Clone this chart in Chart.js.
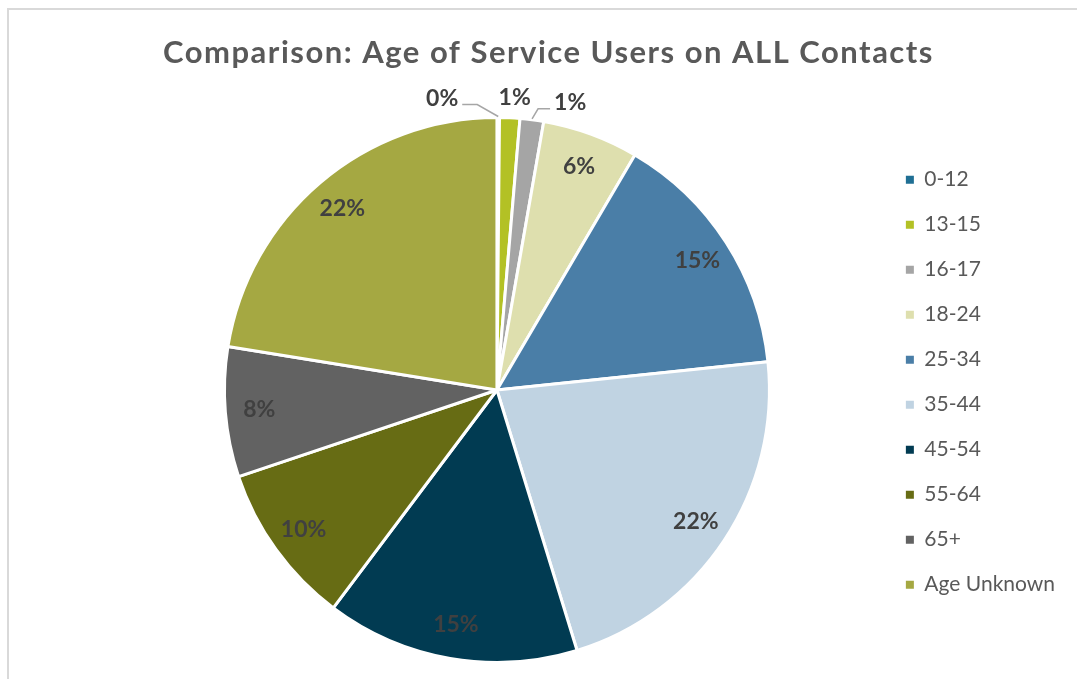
<!DOCTYPE html>
<html>
<head>
<meta charset="utf-8">
<script src="https://cdn.jsdelivr.net/npm/chart.js@4.4.0/dist/chart.umd.min.js"></script>
<style>
  html, body { margin: 0; padding: 0; background: #fff; }
  #wrap { position: relative; width: 1077px; height: 679px; overflow: hidden; }
  #frame { position: absolute; left: 7px; top: 8px; width: 1100px; height: 700px;
           border-left: 2px solid #d9d9d9; border-top: 2px solid #d9d9d9; }
  canvas { position: absolute; left: 0; top: 0; }
</style>
</head>
<body>
<div id="wrap">
  <div id="frame"></div>
  <canvas id="myChart" width="1077" height="679"></canvas>
</div>
<script>
// age bands, in the order Excel draws them (clockwise from 12 o'clock)
const ageGroups = ['0-12', '13-15', '16-17', '18-24', '25-34', '35-44', '45-54', '55-64', '65+', 'Age Unknown']
// share of all contacts, percent
const contactShare = [0.15, 1.2, 1.4, 5.7, 14.9, 21.9, 15.0, 9.6, 7.7, 22.45]
const sliceColours = ['#1f6f94', '#b3c125', '#a5a5a5', '#dedfae', '#4a7ea7', '#c0d3e2', '#013b52', '#676c14', '#626262', '#a5a842']
const chartTitle = 'Comparison: Age of Service Users on ALL Contacts'

// tiny slices get their label outside, with or without a leader line
const outsideLabels = { 0: 'left', 1: 'above', 2: 'right' }

// title is drawn by hand so it can sit off-centre like the Excel one
const titleText = {
	id: 'titleText',
	afterDraw(chart) {
		const ctx = chart.ctx
		ctx.save()
		ctx.font = 'bold 31px Lato'
		ctx.letterSpacing = '1.5px'
		ctx.fillStyle = '#595959'
		ctx.textAlign = 'center'
		ctx.textBaseline = 'middle'
		ctx.fillText(chartTitle, chart.width / 2 + 10, 53)
		ctx.restore()
	}
}

const pctLabels = {
	id: 'pctLabels',
	afterDatasetsDraw(chart) {
		const ctx = chart.ctx
		const arcs = chart.getDatasetMeta(0).data
		const total = contactShare.reduce((a, b) => a + b, 0)
		ctx.save()
		ctx.font = 'bold 23px Lato'
		ctx.fillStyle = '#404040'
		ctx.textBaseline = 'middle'
		arcs.forEach((arc, i) => {
			const txt = Math.round(contactShare[i] / total * 100) + '%'
			const mid = (arc.startAngle + arc.endAngle) / 2
			const r = arc.outerRadius
			const mode = outsideLabels[i]
			if (!mode) {
				ctx.textAlign = 'center'
				ctx.fillText(txt, arc.x + Math.cos(mid) * r * 0.875, arc.y + Math.sin(mid) * r * 0.875)
				return
			}
			if (mode === 'above') {
				ctx.textAlign = 'center'
				ctx.fillText(txt, arc.x + Math.cos(mid) * (r + 20) + 4, arc.y + Math.sin(mid) * (r + 20))
				return
			}
			const dir = mode === 'left' ? -1 : 1
			const ax = arc.x + Math.cos(mid) * (r + 1)
			const ay = arc.y + Math.sin(mid) * (r + 1)
			const ex = ax + dir * (mode === 'left' ? 21 : 6)
			const ey = ay - (mode === 'left' ? 12 : 10)
			const lx = ex + dir * (mode === 'left' ? 15 : 12)
			ctx.strokeStyle = '#a6a6a6'
			ctx.lineWidth = 1.5
			ctx.beginPath()
			ctx.moveTo(ax, ay)
			ctx.lineTo(ex, ey)
			ctx.lineTo(lx, ey)
			ctx.stroke()
			ctx.textAlign = mode === 'left' ? 'right' : 'left'
			ctx.fillText(txt, lx + dir * 4, ey - 6)
		})
		ctx.restore()
	}
}

const baseLegendLabels = (Chart.overrides.pie || Chart.overrides.doughnut).plugins.legend.labels.generateLabels

new Chart(document.getElementById('myChart').getContext('2d'), {
	type: 'pie',
	data: {
		labels: ageGroups,
		datasets: [{
			data: contactShare,
			backgroundColor: sliceColours,
			borderColor: '#ffffff',
			borderWidth: 3
		}]
	},
	options: {
		responsive: false,
		animation: false,
		layout: { padding: { left: 112, right: 12, top: 116, bottom: 15 } },
		plugins: {
			title: { display: false },
			legend: {
				position: 'right',
				align: 'start',
				// empty title only used as a spacer above the first entry
				title: { display: true, text: '', font: { size: 1 }, padding: { top: 0, bottom: 28 } },
				labels: {
					color: '#595959',
					font: { family: 'Lato', size: 21 },
					boxWidth: 8,
					boxHeight: 8,
					padding: 24,
					generateLabels: (chart) => baseLegendLabels(chart).map(l => ({ ...l, lineWidth: 0 }))
				}
			},
			tooltip: { enabled: false }
		}
	},
	plugins: [pctLabels, titleText]
})
</script>
</body>
</html>
